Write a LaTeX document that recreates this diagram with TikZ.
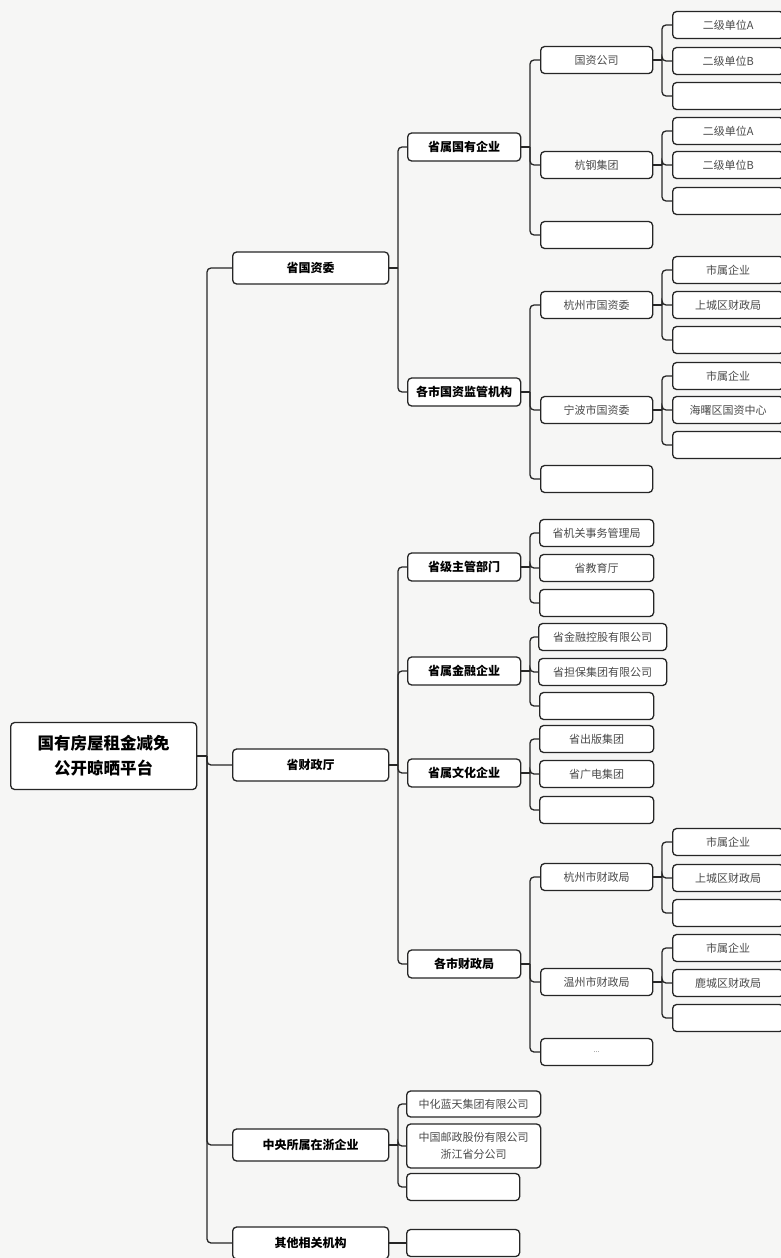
\documentclass[tikz,border=0pt]{standalone}
\usepackage{fontspec}
\setmainfont{Noto Sans CJK SC}
\begin{document}
\definecolor{linec}{HTML}{262626}
\definecolor{textg}{HTML}{4A4A4A}
\definecolor{bgc}{HTML}{F6F6F5}
\begin{tikzpicture}[x=1pt,y=-1pt,
 box/.style={draw=linec, line width=1.3pt, rounded corners=4pt, fill=white, inner sep=0pt, align=center, anchor=west},
 root/.style={box, minimum width=186pt, minimum height=67pt, font=\bfseries\fontsize{16.5}{25}\selectfont},
 lone/.style={box, minimum width=156pt, minimum height=32pt, font=\bfseries\fontsize{12}{14}\selectfont},
 ltwo/.style={box, minimum width=113pt, minimum height=28pt, font=\bfseries\fontsize{12}{14}\selectfont},
 lthree/.style={box, minimum width=112pt, minimum height=27pt, text=textg, font=\fontsize{11}{17}\selectfont},
 lfour/.style={box, minimum width=111pt, minimum height=27pt, text=textg, font=\fontsize{11}{17}\selectfont},
 conn/.style={draw=linec, line width=1.3pt, rounded corners=4pt}]
\fill[bgc] (0,0) rectangle (781,1258);
\useasboundingbox (0,0) rectangle (781,1258);
\coordinate (B1) at (207,0);
\coordinate (B2) at (398,0);
\coordinate (B3) at (530,0);
\coordinate (B4) at (662,0);
% root
\node[root] (r) at (10,756) {国有房屋租金减免\\公开晾晒平台};
% level 1
\node[lone] (a1) at (232,268) {省国资委};
\node[lone] (a2) at (232,765) {省财政厅};
\node[lone] (a3) at (232,1145) {中央所属在浙企业};
\node[lone] (a4) at (232,1243) {其他相关机构};
% level 2
\node[ltwo] (b11) at (407,147) {省属国有企业};
\node[ltwo] (b12) at (407,392) {各市国资监管机构};
\node[ltwo] (b21) at (407,567) {省级主管部门};
\node[ltwo] (b22) at (407,671) {省属金融企业};
\node[ltwo] (b23) at (407,773) {省属文化企业};
\node[ltwo] (b24) at (407,964) {各市财政局};
\node[lthree, minimum width=134pt, minimum height=26pt] (b31) at (406,1104) {中化蓝天集团有限公司};
\node[lthree, minimum width=134pt, minimum height=44pt] (b32) at (406,1146) {中国邮政股份有限公司\\浙江省分公司};
\node[lthree, minimum width=113pt] (b33) at (406,1187) {};
\node[lthree, minimum width=113pt] (b41) at (406,1243) {};
% level 3
\node[lthree] (c111) at (540,60) {国资公司};
\node[lthree] (c112) at (540,165) {杭钢集团};
\node[lthree] (c113) at (540,235) {};
\node[lthree] (c121) at (540,305) {杭州市国资委};
\node[lthree] (c122) at (540,410) {宁波市国资委};
\node[lthree] (c123) at (540,479) {};
\node[lthree, minimum width=114pt] (c211) at (539,533) {省机关事务管理局};
\node[lthree, minimum width=114pt] (c212) at (539,568) {省教育厅};
\node[lthree, minimum width=114pt] (c213) at (539,603) {};
\node[lthree, minimum width=128pt] (c221) at (538,637) {省金融控股有限公司};
\node[lthree, minimum width=128pt] (c222) at (538,672) {省担保集团有限公司};
\node[lthree, minimum width=114pt] (c223) at (539,706) {};
\node[lthree, minimum width=114pt] (c231) at (539,739) {省出版集团};
\node[lthree, minimum width=114pt] (c232) at (539,774) {省广电集团};
\node[lthree, minimum width=114pt] (c233) at (539,810) {};
\node[lthree] (c241) at (540,877) {杭州市财政局};
\node[lthree] (c242) at (540,982) {温州市财政局};
\node[lthree, font=\fontsize{7}{8}\selectfont] (c243) at (540,1052) {...};
% level 4
\node[lfour] (d1111) at (672,25) {二级单位A};
\node[lfour] (d1112) at (672,61) {二级单位B};
\node[lfour] (d1113) at (672,96) {};
\node[lfour] (d1121) at (672,131) {二级单位A};
\node[lfour] (d1122) at (672,165) {二级单位B};
\node[lfour] (d1123) at (672,201) {};
\node[lfour] (d1211) at (672,270) {市属企业};
\node[lfour] (d1212) at (672,305) {上城区财政局};
\node[lfour] (d1213) at (672,340) {};
\node[lfour] (d1221) at (672,376) {市属企业};
\node[lfour] (d1222) at (672,410) {海曙区国资中心};
\node[lfour] (d1223) at (672,445) {};
\node[lfour] (d2411) at (672,842) {市属企业};
\node[lfour] (d2412) at (672,878) {上城区财政局};
\node[lfour] (d2413) at (672,913) {};
\node[lfour] (d2421) at (672,948) {市属企业};
\node[lfour] (d2422) at (672,983) {鹿城区财政局};
\node[lfour] (d2423) at (672,1018) {};
% junctions
\coordinate (jr) at (r.east -| B1);
\coordinate (ja1) at (a1.east -| B2);
\coordinate (ja2) at (a2.east -| B2);
\coordinate (ja3) at (a3.east -| B2);
\coordinate (ja4) at (a4.east -| B2);
\coordinate (jb11) at (b11.east -| B3);
\coordinate (jb12) at (b12.east -| B3);
\coordinate (jb21) at (b21.east -| B3);
\coordinate (jb22) at (b22.east -| B3);
\coordinate (jb23) at (b23.east -| B3);
\coordinate (jb24) at (b24.east -| B3);
\coordinate (jc111) at (c111.east -| B4);
\coordinate (jc112) at (c112.east -| B4);
\coordinate (jc121) at (c121.east -| B4);
\coordinate (jc122) at (c122.east -| B4);
\coordinate (jc241) at (c241.east -| B4);
\coordinate (jc242) at (c242.east -| B4);
% connectors
\draw[conn] (r.east) -- (jr);
\foreach \c in {a1,a2,a3,a4} \draw[conn] (jr) |- (\c.west);
\draw[conn] (a1.east) -- (ja1);
\foreach \c in {b11,b12} \draw[conn] (ja1) |- (\c.west);
\draw[conn] (a2.east) -- (ja2);
\foreach \c in {b21,b22,b23,b24} \draw[conn] (ja2) |- (\c.west);
\draw[conn] (a3.east) -- (ja3);
\foreach \c in {b31,b32,b33} \draw[conn] (ja3) |- (\c.west);
\draw[conn] (a4.east) -- (b41.west);
\draw[conn] (b11.east) -- (jb11);
\foreach \c in {c111,c112,c113} \draw[conn] (jb11) |- (\c.west);
\draw[conn] (b12.east) -- (jb12);
\foreach \c in {c121,c122,c123} \draw[conn] (jb12) |- (\c.west);
\draw[conn] (b21.east) -- (jb21);
\foreach \c in {c211,c212,c213} \draw[conn] (jb21) |- (\c.west);
\draw[conn] (b22.east) -- (jb22);
\foreach \c in {c221,c222,c223} \draw[conn] (jb22) |- (\c.west);
\draw[conn] (b23.east) -- (jb23);
\foreach \c in {c231,c232,c233} \draw[conn] (jb23) |- (\c.west);
\draw[conn] (b24.east) -- (jb24);
\foreach \c in {c241,c242,c243} \draw[conn] (jb24) |- (\c.west);
\draw[conn] (c111.east) -- (jc111);
\foreach \c in {d1111,d1112,d1113} \draw[conn] (jc111) |- (\c.west);
\draw[conn] (c112.east) -- (jc112);
\foreach \c in {d1121,d1122,d1123} \draw[conn] (jc112) |- (\c.west);
\draw[conn] (c121.east) -- (jc121);
\foreach \c in {d1211,d1212,d1213} \draw[conn] (jc121) |- (\c.west);
\draw[conn] (c122.east) -- (jc122);
\foreach \c in {d1221,d1222,d1223} \draw[conn] (jc122) |- (\c.west);
\draw[conn] (c241.east) -- (jc241);
\foreach \c in {d2411,d2412,d2413} \draw[conn] (jc241) |- (\c.west);
\draw[conn] (c242.east) -- (jc242);
\foreach \c in {d2421,d2422,d2423} \draw[conn] (jc242) |- (\c.west);
\end{tikzpicture}
\end{document}
